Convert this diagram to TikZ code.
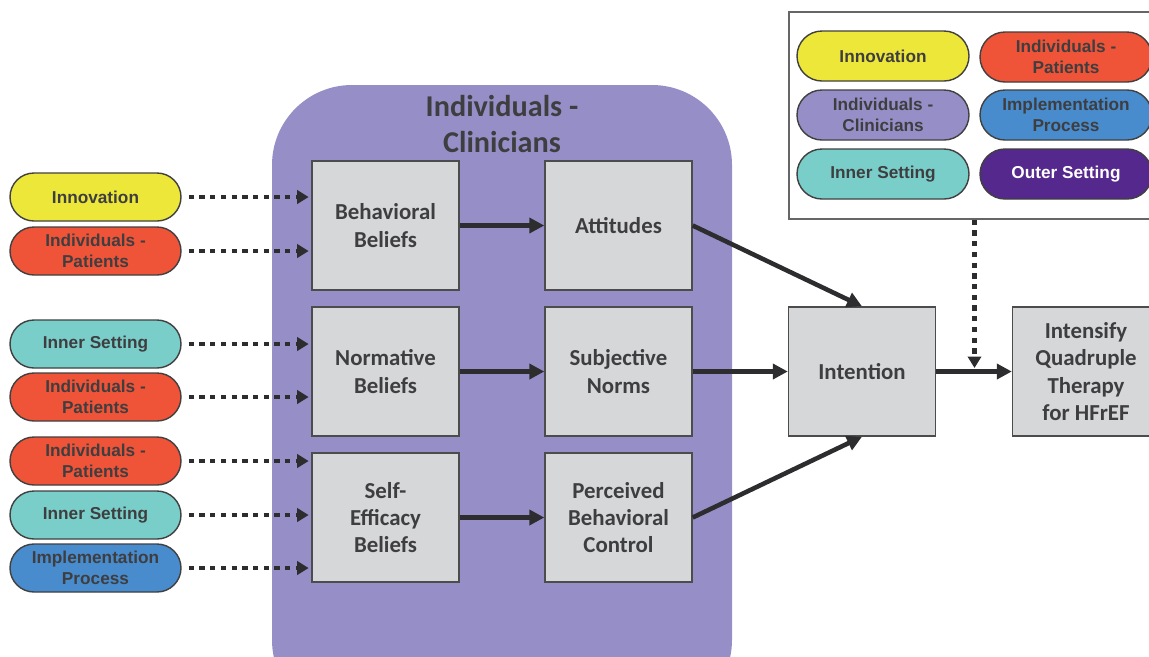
\documentclass[tikz,border=0pt]{standalone}
\usepackage{fontspec}
\setmainfont{Carlito}
\newfontfamily\pillfont{Liberation Sans}
\usetikzlibrary{arrows.meta, positioning}

\definecolor{innovcol}{RGB}{237,231,58}
\definecolor{patientcol}{RGB}{240,84,56}
\definecolor{innercol}{RGB}{122,206,202}
\definecolor{implcol}{RGB}{72,140,206}
\definecolor{cliniccol}{RGB}{150,143,199}
\definecolor{outercol}{RGB}{84,40,140}
\definecolor{boxgray}{RGB}{214,215,217}
\definecolor{textgray}{RGB}{62,62,64}
\definecolor{arrowgray}{RGB}{45,45,48}

\begin{document}
\begin{tikzpicture}[font = \bfseries\fontsize{13}{15.5}\selectfont, node distance=2.92cm,
    box/.style={draw=black!70, fill=boxgray, line width=0.8pt, minimum width=2.94cm, minimum height=2.58cm, inner sep=0pt, align=center, text=textgray},
    pill/.style={draw=black!75, line width=0.8pt, rounded corners=0.48cm, minimum width=3.42cm, minimum height=0.96cm, inner sep=0pt, align=center, text=textgray, font=\pillfont\bfseries\fontsize{9.8}{12}\selectfont},
    lpill/.style={pill, minimum width=3.44cm, minimum height=1cm, rounded corners=0.5cm},
    flow/.style={arrowgray, line width=2.6pt, -{Triangle[length=8.5pt, width=8.5pt]}},
    dotflow/.style={arrowgray, line width=2.8pt, dash pattern=on 3pt off 3.1pt, -{Triangle[length=6.5pt, width=7.5pt]}, shorten <=4pt, shorten >=1.5pt},
    ]

    \useasboundingbox (0,0) rectangle (22.98,-13.12);

    % clinicians area
    \fill[cliniccol, rounded corners=1.6cm] (5.44,-1.7) rectangle (14.64,-14.4);
    \node(title) at (10.04,-2.48)[align=center, text=textgray, font=\bfseries\fontsize{17.2}{21}\selectfont]{Individuals -\\Clinicians};

    \node(bb)[box] at (7.71,-4.51){Behavioral\\Beliefs};
    \node(nb)[box, below of = bb]{Normative\\Beliefs};
    \node(sb)[box, below of = nb]{Self-\\Efficacy\\Beliefs};
    \node(att)[box, right of = bb, node distance=4.66cm]{Attitudes};
    \node(sn)[box, right of = nb, node distance=4.66cm]{Subjective\\Norms};
    \node(pbc)[box, right of = sb, node distance=4.66cm]{Perceived\\Behavioral\\Control};
    \node(intention)[box, right of = sn, node distance=4.87cm]{Intention};
    \node(intensify)[box, right of = intention, node distance=4.48cm]{Intensify\\Quadruple\\Therapy\\for HFrEF};

    % determinants
    \node(p1)[pill, fill=innovcol] at (1.91,-3.94){Innovation};
    \node(p2)[pill, fill=patientcol] at (1.91,-5.02){Individuals -\\Patients};
    \node(p3)[pill, fill=innercol] at (1.91,-6.88){Inner Setting};
    \node(p4)[pill, fill=patientcol] at (1.91,-7.94){Individuals -\\Patients};
    \node(p5)[pill, fill=patientcol] at (1.91,-9.22){Individuals -\\Patients};
    \node(p6)[pill, fill=innercol] at (1.91,-10.30){Inner Setting};
    \node(p7)[pill, fill=implcol] at (1.91,-11.36){Implementation\\Process};

    \draw[dotflow](p1.east) -- (p1.east -| bb.west);
    \draw[dotflow](p2.east) -- (p2.east -| bb.west);
    \draw[dotflow](p3.east) -- (p3.east -| nb.west);
    \draw[dotflow](p4.east) -- (p4.east -| nb.west);
    \draw[dotflow](p5.east) -- (p5.east -| sb.west);
    \draw[dotflow](p6.east) -- (p6.east -| sb.west);
    \draw[dotflow](p7.east) -- (p7.east -| sb.west);

    % legend
    \node(legend)[draw=black!60, fill=white, line width=0.8pt, minimum width=7.42cm, minimum height=4.14cm] at (19.49,-2.31){};
    \node(l1)[lpill, fill=innovcol] at (17.66,-1.12){Innovation};
    \node(l2)[lpill, fill=patientcol] at (21.32,-1.14){Individuals -\\Patients};
    \node(l3)[lpill, fill=cliniccol] at (17.66,-2.30){Individuals -\\Clinicians};
    \node(l4)[lpill, fill=implcol] at (21.32,-2.30){Implementation\\Process};
    \node(l5)[lpill, fill=innercol] at (17.66,-3.48){Inner Setting};
    \node(l6)[lpill, fill=outercol, text=white] at (21.32,-3.48){Outer Setting};

    \draw[flow](bb) -- (att);
    \draw[flow](nb) -- (sn);
    \draw[flow](sb) -- (pbc);
    \draw[flow](att.east) -- (intention.north);
    \draw[flow](sn) -- (intention);
    \draw[flow](pbc.east) -- (intention.south);
    \draw[flow](intention) -- (intensify);

    \coordinate(join) at (legend.south |- intention.east);
    \draw[dotflow, shorten <=0pt, shorten >=2pt](legend.south) -- (join);

\end{tikzpicture}
\end{document}
